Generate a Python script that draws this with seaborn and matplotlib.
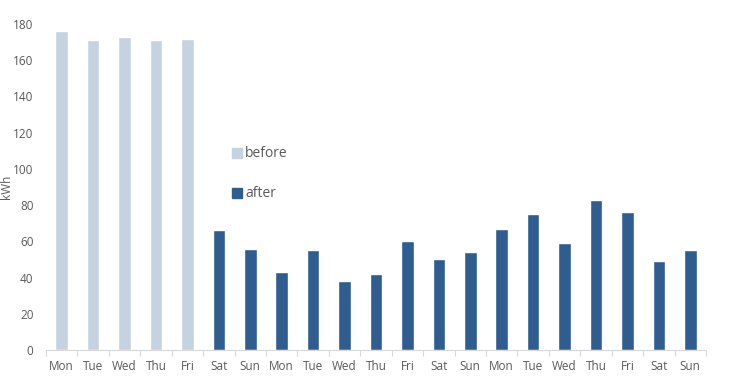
import matplotlib
matplotlib.use("Agg")
import matplotlib.pyplot as plt
import numpy as np
import pandas as pd
import seaborn as sns

# Daily energy use
days = ['Mon', 'Tue', 'Wed', 'Thu', 'Fri',
        'Sat', 'Sun', 'Mon', 'Tue', 'Wed', 'Thu', 'Fri', 'Sat', 'Sun',
        'Mon', 'Tue', 'Wed', 'Thu', 'Fri', 'Sat', 'Sun']
before_kwh = [176, 171, 173, 171, 172]
after_kwh = [66, 56, 43, 55, 38, 42, 60, 50, 54, 67, 75, 59, 83, 76, 49, 55]

df = pd.DataFrame({
    'pos': range(len(days)),
    'kWh': before_kwh + after_kwh,
    'period': ['before'] * len(before_kwh) + ['after'] * len(after_kwh),
})

sns.set_theme(style="white")
plt.rcParams['font.family'] = ['Open Sans', 'DejaVu Sans']

fig = plt.figure(figsize=(7.5, 3.88), dpi=100)
ax = fig.add_axes([0.0613, 0.098, 0.88, 0.84])

colors = {'before': '#c5d3e1', 'after': '#305d90'}
sns.barplot(data=df, x='pos', y='kWh', hue='period', palette=colors,
            dodge=False, width=0.4, ax=ax, saturation=1, legend=False)

ax.set_ylim(0, 180)
ax.set_yticks(np.arange(0, 181, 20))
ax.set_xlim(-0.5, len(days) - 0.5)
ax.set_xticks(range(len(days)))
ax.set_xticklabels(days)
ax.set_xticks(np.arange(-0.5, len(days), 1), minor=True)
ax.tick_params(axis='x', which='major', length=0, pad=7, labelsize=8.5, labelcolor='#595959')
ax.tick_params(axis='x', which='minor', length=4, color='#d9d9d9', width=0.8, direction='out', bottom=True)
ax.tick_params(axis='y', length=0, pad=9, labelsize=8.5, labelcolor='#595959')
ax.set_xlabel('')
ax.set_ylabel('kWh', fontsize=8.5, color='#595959')
ax.yaxis.set_label_coords(-0.05, 0.5)

for s in ['top', 'right', 'left']:
    ax.spines[s].set_visible(False)
ax.spines['bottom'].set_color('#d9d9d9')
ax.spines['bottom'].set_linewidth(0.8)

# Legend placed inside the plot, as in the original
handles = [plt.Line2D([], [], marker='s', linestyle='', markersize=7, color=colors[k]) for k in ['before', 'after']]
leg = ax.legend(handles, ['before', 'after'], loc='upper left', bbox_to_anchor=(0.26, 0.663),
                frameon=False, labelspacing=1.8, handletextpad=0.1, handlelength=1.0,
                fontsize=10, labelcolor='#595959')

fig.savefig('out.png', dpi=100)
